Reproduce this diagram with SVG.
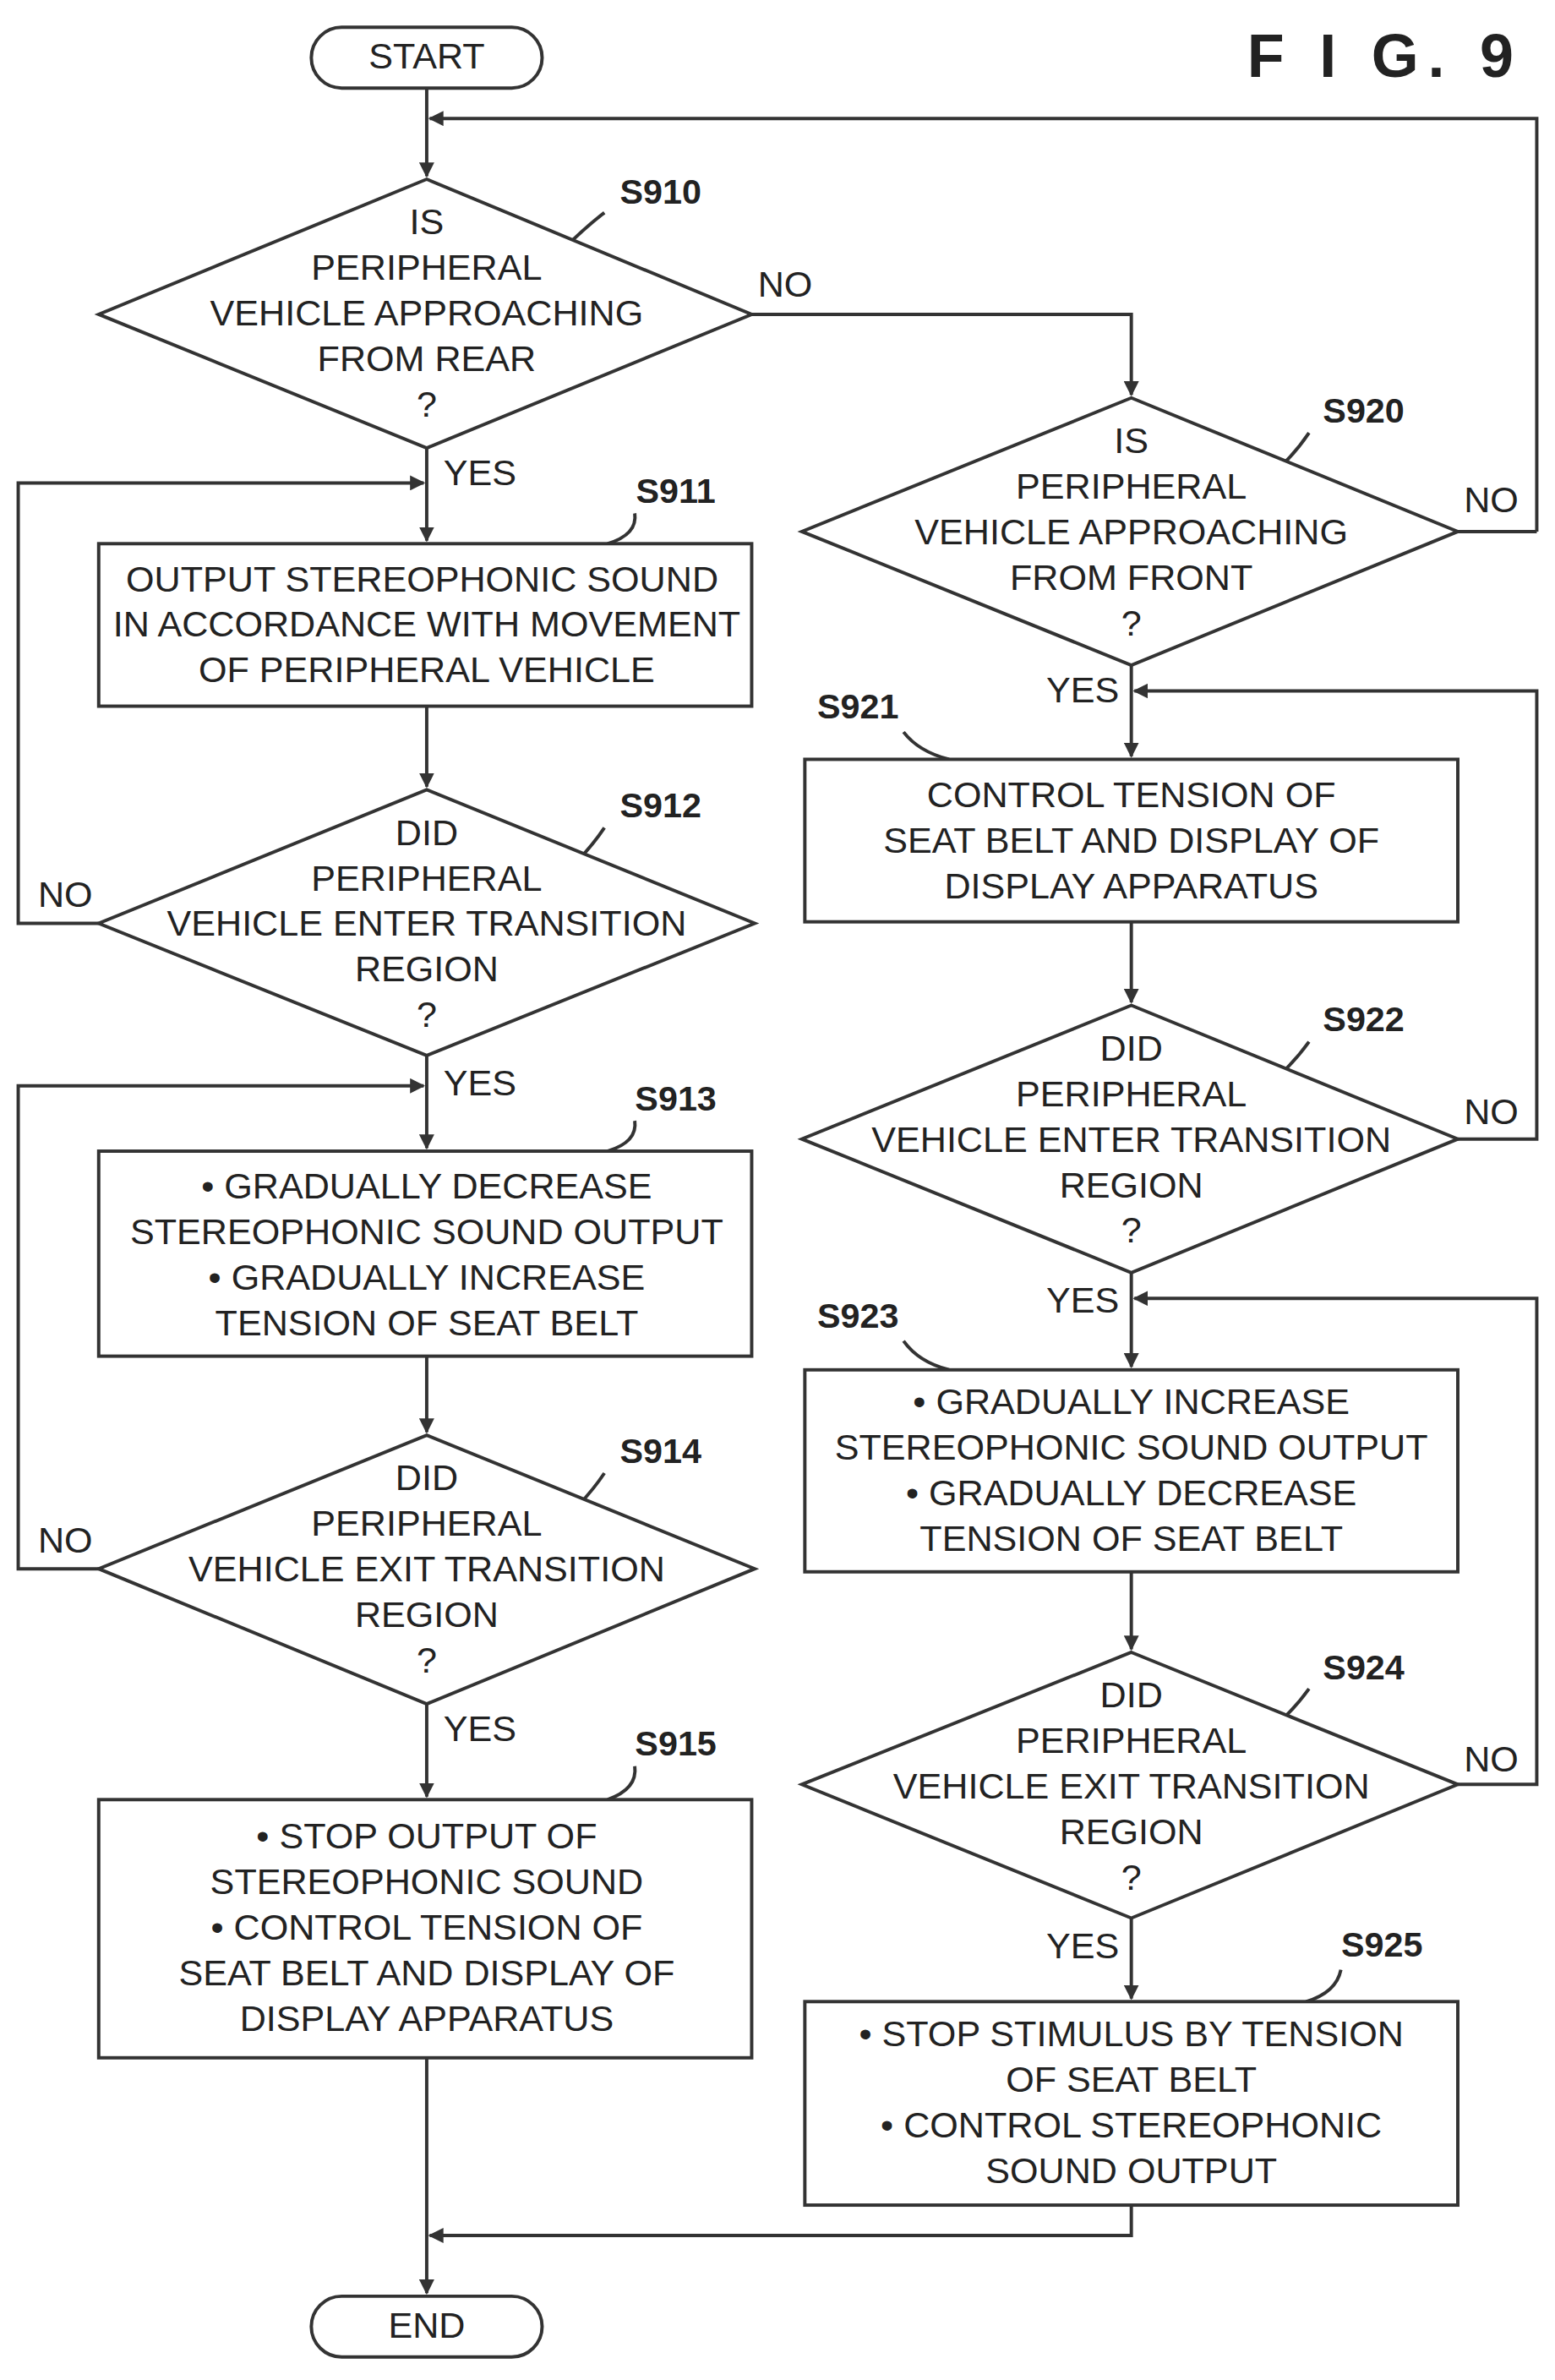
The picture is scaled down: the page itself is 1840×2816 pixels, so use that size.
<svg xmlns="http://www.w3.org/2000/svg" width="1840" height="2816" viewBox="0 0 1840 2816">
<style>
.s{fill:none;stroke:#333;stroke-width:2.2}
.b{fill:#fff;stroke:#333;stroke-width:2.2}
text{font-family:"Liberation Sans",Arial,sans-serif;font-size:24px;fill:#222;text-anchor:middle;dominant-baseline:middle}
.l{font-weight:bold;font-size:23px}
.y{text-anchor:start}
</style>
<defs><marker id="a" markerWidth="10" markerHeight="10" refX="9" refY="5" orient="auto" markerUnits="userSpaceOnUse"><path d="M0,0 L10,5 L0,10 Z" fill="#333"/></marker></defs>
<rect width="1840" height="2816" fill="#fff"/>
<g transform="scale(1.79688)">
<text x="912" y="40" style="font-size:40px;font-weight:bold;letter-spacing:6px">F I G. 9</text>
<g id="connectors" class="s">
<path d="M281,58 V116" marker-end="url(#a)"/>
<path d="M1012,350 V78 H283" marker-end="url(#a)"/>
<path d="M495,207 H745 V260" marker-end="url(#a)"/>
<path d="M960,350 H1012"/>
<path d="M281,295 V356" marker-end="url(#a)"/>
<path d="M65,608 H12 V318 H279" marker-end="url(#a)"/>
<path d="M281,465 V518" marker-end="url(#a)"/>
<path d="M281,695 V756" marker-end="url(#a)"/>
<path d="M65,1033 H12 V715 H279" marker-end="url(#a)"/>
<path d="M281,893 V943" marker-end="url(#a)"/>
<path d="M281,1122 V1183" marker-end="url(#a)"/>
<path d="M281,1355 V1510" marker-end="url(#a)"/>
<path d="M745,1452 V1472 H283" marker-end="url(#a)"/>
<path d="M745,438 V498" marker-end="url(#a)"/>
<path d="M960,750 H1012 V455 H747" marker-end="url(#a)"/>
<path d="M745,607 V660" marker-end="url(#a)"/>
<path d="M745,838 V900" marker-end="url(#a)"/>
<path d="M960,1175 H1012 V855 H747" marker-end="url(#a)"/>
<path d="M745,1035 V1086" marker-end="url(#a)"/>
<path d="M745,1263 V1316" marker-end="url(#a)"/>
<path d="M398,140 Q385,150 370,165"/>
<path d="M418,338 Q420,352 400,358"/>
<path d="M398,545 Q388,560 372,575"/>
<path d="M418,738 Q420,752 400,758"/>
<path d="M398,970 Q388,985 372,1000"/>
<path d="M418,1163 Q420,1178 400,1185"/>
<path d="M862,285 Q852,300 838,312"/>
<path d="M595,482 Q605,495 625,500"/>
<path d="M862,686 Q852,700 838,712"/>
<path d="M595,883 Q605,897 625,902"/>
<path d="M862,1112 Q852,1126 838,1138"/>
<path d="M883,1297 Q880,1312 860,1318"/>
</g>
<g id="start"><rect class="b" x="205" y="18" width="152" height="40" rx="20"/><text x="281" y="39">START</text></g>
<g id="end"><rect class="b" x="205" y="1512" width="152" height="40" rx="20"/><text x="281" y="1533">END</text></g>
<g id="S910"><path class="b" d="M281,118 L495,207 L281,295 L65,207 Z"/>
<text x="281" y="148">IS</text><text x="281" y="178">PERIPHERAL</text><text x="281" y="208">VEHICLE APPROACHING</text><text x="281" y="238">FROM REAR</text><text x="281" y="268">?</text>
<text class="l" x="435" y="128">S910</text><text x="517" y="189">NO</text><text class="y" x="292" y="313">YES</text></g>
<g id="S911"><rect class="b" x="65" y="358" width="430" height="107"/>
<text x="278" y="383">OUTPUT STEREOPHONIC SOUND</text><text x="281" y="413">IN ACCORDANCE WITH MOVEMENT</text><text x="281" y="443">OF PERIPHERAL VEHICLE</text>
<text class="l" x="445" y="325">S911</text></g>
<g id="S912"><path class="b" d="M281,520 L497,608 L281,695 L65,608 Z"/>
<text x="281" y="550">DID</text><text x="281" y="580">PERIPHERAL</text><text x="281" y="610">VEHICLE ENTER TRANSITION</text><text x="281" y="640">REGION</text><text x="281" y="670">?</text>
<text class="l" x="435" y="532">S912</text><text x="43" y="591">NO</text><text class="y" x="292" y="715">YES</text></g>
<g id="S913"><rect class="b" x="65" y="758" width="430" height="135"/>
<text x="281" y="783">• GRADUALLY DECREASE</text><text x="281" y="813">STEREOPHONIC SOUND OUTPUT</text><text x="281" y="843">• GRADUALLY INCREASE</text><text x="281" y="873">TENSION OF SEAT BELT</text>
<text class="l" x="445" y="725">S913</text></g>
<g id="S914"><path class="b" d="M281,945 L497,1033 L281,1122 L65,1033 Z"/>
<text x="281" y="975">DID</text><text x="281" y="1005">PERIPHERAL</text><text x="281" y="1035">VEHICLE EXIT TRANSITION</text><text x="281" y="1065">REGION</text><text x="281" y="1095">?</text>
<text class="l" x="435" y="957">S914</text><text x="43" y="1016">NO</text><text class="y" x="292" y="1140">YES</text></g>
<g id="S915"><rect class="b" x="65" y="1185" width="430" height="170"/>
<text x="281" y="1211">• STOP OUTPUT OF</text><text x="281" y="1241">STEREOPHONIC SOUND</text><text x="281" y="1271">• CONTROL TENSION OF</text><text x="281" y="1301">SEAT BELT AND DISPLAY OF</text><text x="281" y="1331">DISPLAY APPARATUS</text>
<text class="l" x="445" y="1150">S915</text></g>
<g id="S920"><path class="b" d="M745,262 L960,350 L745,438 L528,350 Z"/>
<text x="745" y="292">IS</text><text x="745" y="322">PERIPHERAL</text><text x="745" y="352">VEHICLE APPROACHING</text><text x="745" y="382">FROM FRONT</text><text x="745" y="412">?</text>
<text class="l" x="898" y="272">S920</text><text x="982" y="331">NO</text><text x="713" y="456">YES</text></g>
<g id="S921"><rect class="b" x="530" y="500" width="430" height="107"/>
<text x="745" y="525">CONTROL TENSION OF</text><text x="745" y="555">SEAT BELT AND DISPLAY OF</text><text x="745" y="585">DISPLAY APPARATUS</text>
<text class="l" x="565" y="467">S921</text></g>
<g id="S922"><path class="b" d="M745,662 L960,750 L745,838 L528,750 Z"/>
<text x="745" y="692">DID</text><text x="745" y="722">PERIPHERAL</text><text x="745" y="752">VEHICLE ENTER TRANSITION</text><text x="745" y="782">REGION</text><text x="745" y="812">?</text>
<text class="l" x="898" y="673">S922</text><text x="982" y="734">NO</text><text x="713" y="858">YES</text></g>
<g id="S923"><rect class="b" x="530" y="902" width="430" height="133"/>
<text x="745" y="925">• GRADUALLY INCREASE</text><text x="745" y="955">STEREOPHONIC SOUND OUTPUT</text><text x="745" y="985">• GRADUALLY DECREASE</text><text x="745" y="1015">TENSION OF SEAT BELT</text>
<text class="l" x="565" y="868">S923</text></g>
<g id="S924"><path class="b" d="M745,1088 L960,1175 L745,1263 L528,1175 Z"/>
<text x="745" y="1118">DID</text><text x="745" y="1148">PERIPHERAL</text><text x="745" y="1178">VEHICLE EXIT TRANSITION</text><text x="745" y="1208">REGION</text><text x="745" y="1238">?</text>
<text class="l" x="898" y="1100">S924</text><text x="982" y="1160">NO</text><text x="713" y="1283">YES</text></g>
<g id="S925"><rect class="b" x="530" y="1318" width="430" height="134"/>
<text x="745" y="1341">• STOP STIMULUS BY TENSION</text><text x="745" y="1371">OF SEAT BELT</text><text x="745" y="1401">• CONTROL STEREOPHONIC</text><text x="745" y="1431">SOUND OUTPUT</text>
<text class="l" x="910" y="1282">S925</text></g>
</g>
</svg>
